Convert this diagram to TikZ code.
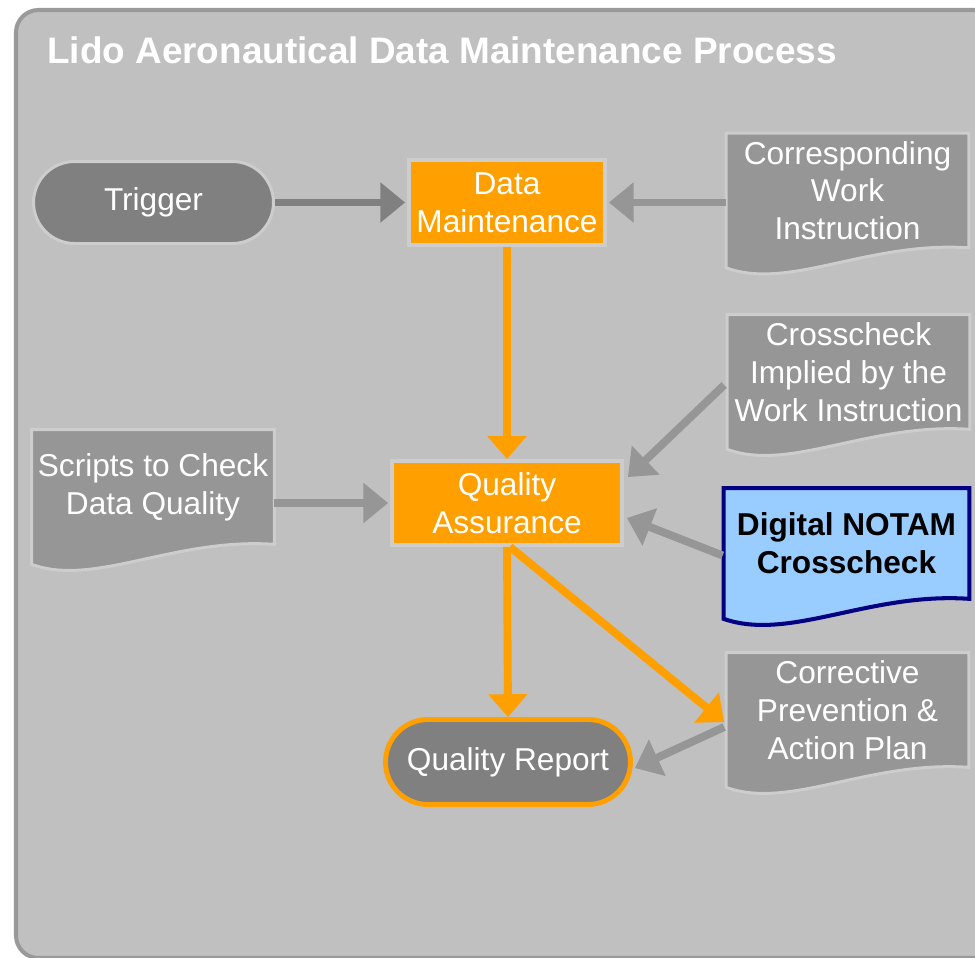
\documentclass[tikz,border=0pt]{standalone}
\usepackage{fontspec}
\setmainfont{Liberation Sans}
\usetikzlibrary{arrows.meta,shapes.misc,calc,backgrounds}

\definecolor{panelgray}{HTML}{C0C0C0}
\definecolor{framegray}{HTML}{999999}
\definecolor{darkbox}{HTML}{808080}
\definecolor{docgray}{HTML}{969696}
\definecolor{rimgray}{HTML}{CDCDCD}
\definecolor{lidoorange}{HTML}{FF9F00}
\definecolor{notamblue}{HTML}{99CCFF}
\definecolor{notamrim}{HTML}{000080}

\tikzset{
  boxtext/.style={text=white, font=\fontsize{18}{21.5}\selectfont, align=center, inner sep=0pt},
  procbox/.style={boxtext, rectangle, fill=lidoorange, draw=rimgray, line width=2.2pt},
  termbox/.style={boxtext, rounded rectangle, fill=darkbox, draw=rimgray, line width=1.7pt},
  reportbox/.style={boxtext, rounded rectangle, fill=darkbox, draw=lidoorange, line width=2.8pt},
  docbox/.style={boxtext, rectangle, minimum width=4.84cm, minimum height=2.28cm},
  docshape/.style={fill=docgray, draw=rimgray, line width=1.7pt},
  notamshape/.style={fill=notamblue, draw=notamrim, line width=2.3pt},
  grayflow/.style={docgray, line width=4.5pt, -{Triangle[length=14pt,width=22pt]}},
  orangeflow/.style={lidoorange, line width=4.5pt, -{Triangle[length=13pt,width=21.5pt]}}
}

\begin{document}
\begin{tikzpicture}[x=0.02cm, y=-0.02cm]
   \useasboundingbox (0,0) rectangle (975,958);
   \node[text=white, font=\fontsize{21}{25}\selectfont\bfseries, anchor=base west, inner sep=0pt] (title) at (47,63) {Lido Aeronautical Data Maintenance Process};

   % process and terminal boxes
   \node[termbox, minimum width=4.8cm, minimum height=1.64cm] (trig) at (153.5,202.5) {Trigger};
   \node[procbox, minimum width=3.92cm, minimum height=1.7cm] (dm) at (507,202.5) {Data\\Maintenance};
   \node[procbox, minimum width=4.6cm, minimum height=1.68cm] (qa) at (507,503) {Quality\\Assurance};
   \node[reportbox, minimum width=4.9cm, minimum height=1.7cm] (qr) at (508,762) {Quality Report};

   % documents
   \node[docbox] (cwi) at (847.5,190.5) {Corresponding\\Work\\Instruction};
   \node[docbox] (xchk) at (848.5,372) {Crosscheck\\Implied by the\\Work Instruction};
   \node[docbox] (scr) at (153,487) {Scripts to Check\\Data Quality};
   \node[docbox, text=black, font=\fontsize{18}{21.5}\selectfont\bfseries, minimum width=4.9cm, minimum height=2.2cm] (notam) at (846.5,543.5) {Digital NOTAM\\Crosscheck};
   \node[docbox] (cor) at (847.5,710) {Corrective\\Prevention \&\\Action Plan};

   \begin{pgfonlayer}{background}
     \fill[white] (0,0) rectangle (975,958);
     \draw[framegray, line width=2.3pt, fill=panelgray, rounded corners=0.45cm] (16,10) rectangle (1000,958);
     \foreach \d in {cwi,xchk,scr,cor}
       \path[docshape] (\d.north west) -- (\d.north east) -- (\d.south east)
         .. controls ($(\d.south east)+(-100,-7)$) and ($(\d.south east)+(-180,43)$) .. ($(\d.south west)+(0,20)$) -- cycle;
     \path[notamshape] (notam.north west) -- (notam.north east) -- (notam.south east)
       .. controls ($(notam.south east)+(-100,-7)$) and ($(notam.south east)+(-180,43)$) .. ($(notam.south west)+(0,20)$) -- cycle;
   \end{pgfonlayer}

   % flows
   \draw[grayflow, darkbox] (trig.east) -- ($(dm.west)+(-2,0)$);
   \draw[grayflow] (cwi.west |- dm.east) -- ($(dm.east)+(2,0)$);
   \draw[grayflow] ($(xchk.west)+(-3,13)$) -- ($(qa.north east)+(4,18)$);
   \draw[grayflow] (scr.east |- qa.west) -- ($(qa.west)+(-2,0)$);
   \draw[grayflow] ($(notam.west)+(-1,12)$) -- ($(qa.east)+(3,15)$);
   \draw[grayflow] ($(cor.west)+(-2,17)$) -- ($(qr.east)+(2,6)$);
   \draw[orangeflow] (dm.south) -- (qa.north);
   \draw[orangeflow] (qa.south) -- (qr.north);
   \draw[orangeflow] ($(qa.south)+(3,0)$) -- ($(cor.west)+(-2,12)$);
\end{tikzpicture}
\end{document}
